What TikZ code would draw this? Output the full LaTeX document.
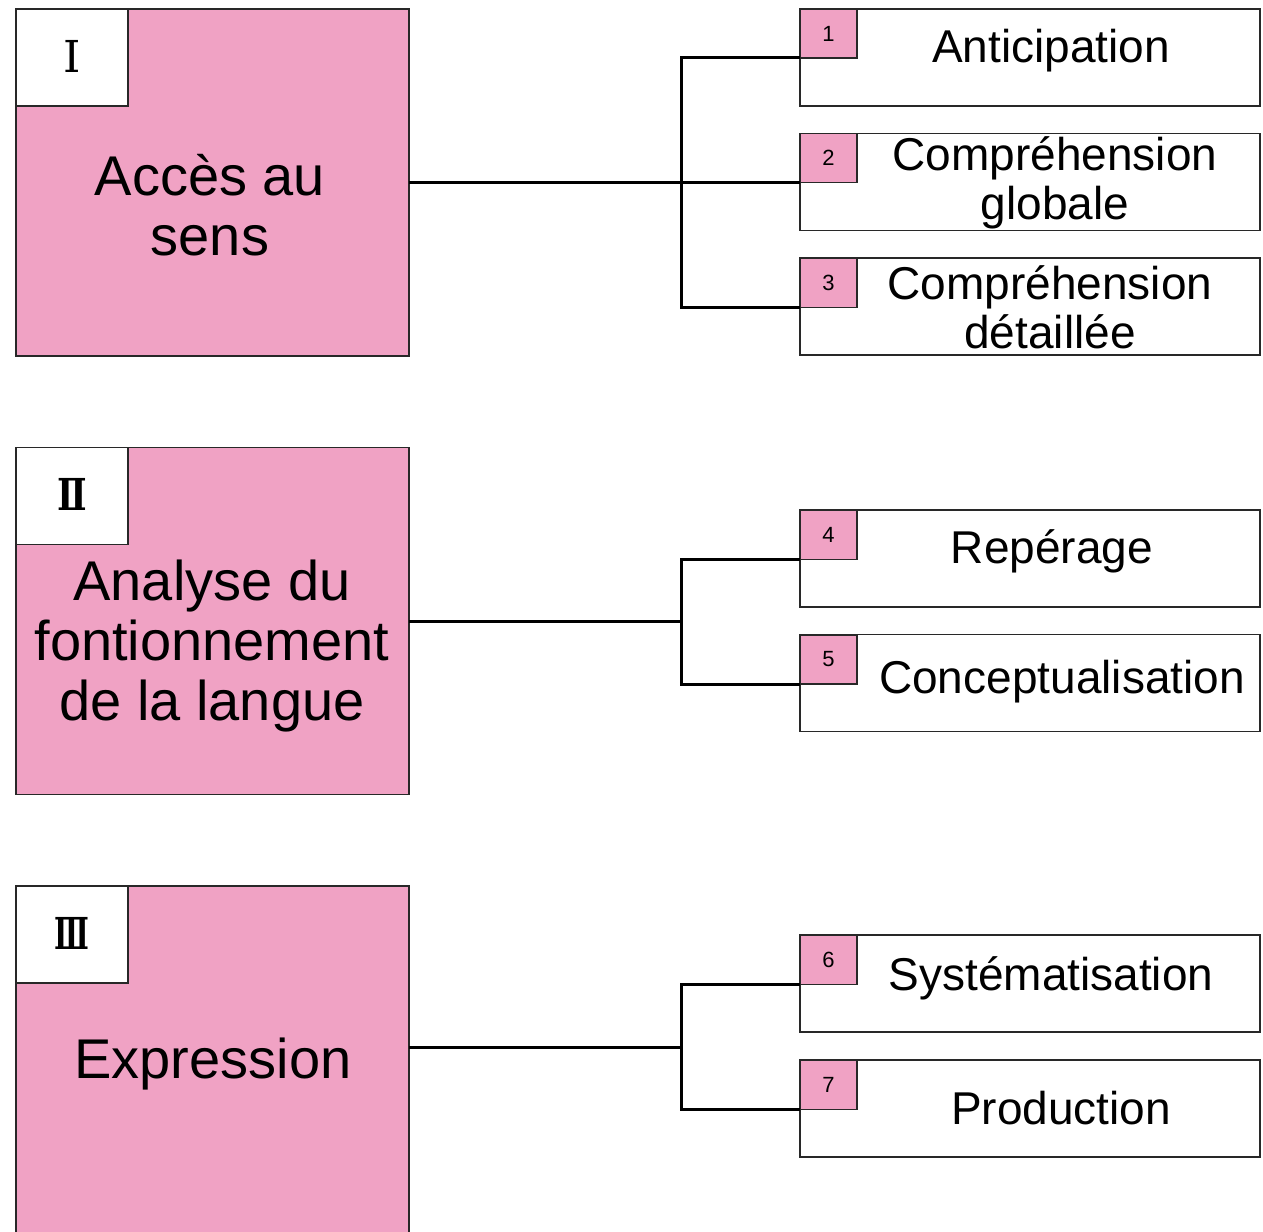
\documentclass[tikz,border=0pt]{standalone}
\usepackage{fontspec}
\setmainfont{Liberation Sans}
\newfontfamily\romanfont{DejaVu Serif}
\definecolor{boxpink}{RGB}{240,162,196}
\definecolor{edgegray}{RGB}{40,40,40}
\begin{document}
\begin{tikzpicture}[x=1pt,y=-1pt,
  mainbox/.style={draw=edgegray,line width=1.5pt,fill=boxpink,minimum width=393pt,minimum height=347pt,inner sep=0pt,outer sep=0pt},
  romanbox/.style={draw=edgegray,line width=1.5pt,fill=white,minimum width=112pt,minimum height=97pt,inner sep=0pt,outer sep=0pt},
  subbox/.style={draw=edgegray,line width=1.5pt,fill=white,minimum width=460pt,minimum height=97pt,inner sep=0pt,outer sep=0pt},
  numbox/.style={draw=edgegray,line width=1.5pt,fill=boxpink,minimum width=57pt,minimum height=49pt,inner sep=0pt,outer sep=0pt,font=\fontsize{22}{24}\selectfont},
  maintext/.style={align=center,inner sep=0pt,font=\fontsize{56}{60}\selectfont},
  subtext/.style={align=center,inner sep=0pt,font=\fontsize{46}{49}\selectfont},
  romantext/.style={inner sep=0pt,font=\romanfont\fontsize{44}{48}\selectfont},
  conn/.style={draw=black,line width=3pt}]
\clip (0,0) rectangle (1263,1231);
\fill[white] (0,0) rectangle (1263,1231);

% ---------- Group I ----------
\node[mainbox] (A) at (212.5,182.5) {};
\node[romanbox] (rA) at (72,57.5) {};
\node[romantext] (rAt) at (72,56) {Ⅰ};
\node[maintext] (At) at (210,205) {Accès au\\sens};

\node[subbox] (s1) at (1030,57.5) {};
\node[subbox] (s2) at (1030,182) {};
\node[subbox] (s3) at (1030,306.5) {};
\node[numbox] (n1) at (828.5,33.5) {1};
\node[numbox] (n2) at (828.5,158) {2};
\node[numbox] (n3) at (828.5,283) {3};
\node[subtext] (t1) at (1051,51) {Anticipation};
\node[subtext] (t2) at (1055,183) {Compréhension\\globale};
\node[subtext] (t3) at (1050,307) {Compréhension\\détaillée};

\coordinate (jA) at (681,182.5);
\draw[conn] (A.east) -- (n2.south west);
\draw[conn] (n1.south west) -| (jA);
\draw[conn] (n3.south west) -| (jA);

% ---------- Group II ----------
\node[mainbox] (B) at (212.5,621) {};
\node[romanbox] (rB) at (72,496) {};
\node[romantext] (rBt) at (72,494) {\bfseries\scalebox{0.8}[1]{Ⅱ}};
\node[maintext] (Bt) at (212,646) {Analyse du\\fontionnement\\de la langue};

\node[subbox] (s4) at (1030,558.5) {};
\node[subbox] (s5) at (1030,683) {};
\node[numbox] (n4) at (828.5,535) {4};
\node[numbox] (n5) at (828.5,659.5) {5};
\node[subtext] (t4) at (1052,551) {Repérage};
\node[subtext] (t5) at (1062,682) {Conceptualisation};

\coordinate (jB) at (681,621);
\draw[conn] (B.east |- jB) -- (jB);
\draw[conn] (n4.south west) -| (jB);
\draw[conn] (n5.south west) -| (jB);

% ---------- Group III ----------
\node[mainbox] (C) at (212.5,1059.5) {};
\node[romanbox] (rC) at (72,934.5) {};
\node[romantext] (rCt) at (72,933) {\bfseries\scalebox{0.65}[1]{Ⅲ}};
\node[maintext] (Ct) at (213,1064) {Expression};

\node[subbox] (s6) at (1030,983.5) {};
\node[subbox] (s7) at (1030,1108.5) {};
\node[numbox] (n6) at (828.5,960) {6};
\node[numbox] (n7) at (828.5,1085) {7};
\node[subtext] (t6) at (1051,978) {Systématisation};
\node[subtext] (t7) at (1061,1108) {Production};

\coordinate (jC) at (681,1047);
\draw[conn] (C.east |- jC) -- (jC);
\draw[conn] (n6.south west) -| (jC);
\draw[conn] (n7.south west) -| (jC);
\end{tikzpicture}
\end{document}
